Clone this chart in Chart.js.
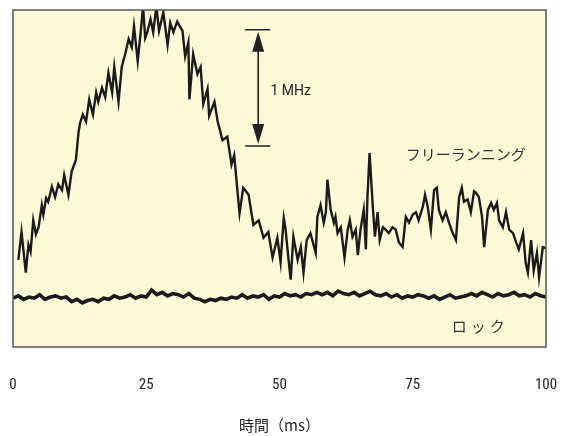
<!DOCTYPE html>
<html>
<head>
<meta charset="utf-8">
<script src="https://cdn.jsdelivr.net/npm/chart.js@4.4.1/dist/chart.umd.min.js"></script>
<style>
  html, body { margin: 0; padding: 0; background: #fff; }
  #wrap { width: 566px; height: 436px; }
</style>
</head>
<body>
<div id="wrap"><canvas id="chart"></canvas></div>
<script>
// time axis (ms) and tick labels
const xTicks = [0, 25, 50, 75, 100];

// free running trace (ms, MHz above baseline)
const freeTimes = [
    1.0, 1.6, 2.4, 2.9, 3.3, 3.8, 4.3, 4.8, 5.4, 5.7, 6.2, 6.6, 7.3, 7.9, 8.5, 9.2, 9.6, 10.4, 11.0, 11.8,
    12.3, 12.6, 13.1, 13.7, 14.3, 15.0, 15.6, 16.0, 16.7, 17.3, 17.9, 18.6, 19.0, 19.8, 20.4, 21.1, 21.7, 22.3, 22.7, 23.4,
    24.0, 24.4, 24.8, 25.2, 25.8, 26.3, 26.9, 27.4, 28.2, 29.0, 29.5, 30.1, 30.8, 31.8, 32.3, 32.9, 33.1, 33.8, 34.6, 35.2,
    35.7, 36.5, 36.8, 37.8, 38.4, 39.3, 40.2, 41.0, 41.5, 42.5, 43.2, 44.2, 45.1, 46.1, 47.0, 47.9, 48.7, 49.6, 50.2, 50.8,
    51.1, 51.7, 52.1, 52.6, 53.4, 54.0, 54.5, 55.1, 55.8, 56.8, 57.1, 57.7, 58.3, 58.7, 59.0, 59.6, 60.2, 60.5, 60.9, 61.5,
    62.2, 62.8, 63.2, 63.7, 64.3, 64.7, 65.2, 65.8, 66.2, 66.5, 66.9, 67.5, 67.9, 68.4, 68.8, 69.4, 69.9, 70.5, 71.2, 71.8,
    72.4, 73.1, 73.7, 74.3, 75.0, 75.6, 76.1, 76.9, 77.3, 77.8, 78.4, 79.0, 79.5, 79.9, 80.6, 81.2, 81.8, 82.5, 83.1, 83.7,
    84.2, 84.6, 85.3, 85.9, 86.5, 86.8, 87.4, 88.0, 88.4, 89.1, 89.7, 90.2, 90.8, 91.2, 91.9, 92.5, 93.1, 93.8, 94.4, 94.9,
    95.7, 96.2, 96.6, 97.2, 97.7, 98.3, 98.7, 99.4, 100
];
const freeValues = [
    0.75, 0.99, 0.64, 0.88, 0.82, 1.09, 0.97, 1.03, 1.22, 1.14, 1.28, 1.25, 1.38, 1.29, 1.40, 1.35, 1.48, 1.31, 1.51, 1.61,
    1.85, 1.93, 2.00, 1.94, 2.13, 2.00, 2.19, 2.11, 2.23, 2.15, 2.36, 2.19, 2.41, 2.11, 2.41, 2.53, 2.65, 2.58, 2.76, 2.46,
    2.73, 2.93, 2.66, 2.71, 2.82, 2.71, 2.93, 2.72, 2.88, 2.60, 2.79, 2.71, 2.80, 2.72, 2.50, 2.62, 2.13, 2.52, 2.35, 2.41,
    2.09, 2.22, 1.99, 2.11, 1.94, 1.78, 1.81, 1.57, 1.65, 1.15, 1.37, 1.31, 1.05, 1.09, 0.94, 0.99, 0.77, 0.94, 0.73, 1.11,
    1.03, 0.75, 0.58, 0.95, 0.75, 0.86, 0.64, 0.92, 0.98, 0.81, 1.12, 1.22, 1.07, 1.16, 1.44, 1.18, 1.07, 1.12, 0.98, 1.03,
    0.77, 1.01, 1.09, 0.95, 1.01, 0.79, 1.01, 1.18, 0.84, 1.29, 1.67, 1.21, 0.95, 1.16, 0.92, 1.03, 1.01, 0.98, 1.03, 1.01,
    0.90, 0.86, 1.12, 1.07, 1.14, 1.16, 1.09, 1.21, 1.31, 1.21, 1.01, 1.35, 1.37, 1.18, 1.09, 1.16, 1.07, 0.98, 0.92, 1.29,
    1.37, 1.25, 1.27, 1.16, 1.34, 1.33, 1.29, 1.12, 0.86, 1.18, 1.24, 1.18, 1.24, 1.09, 1.03, 1.16, 1.01, 0.98, 0.90, 0.84,
    0.98, 0.72, 0.64, 0.92, 0.66, 0.81, 0.60, 0.86, 0.85
];

// locked trace, one reading per ms
const lockTimes = [
    0, 1, 2, 3, 4, 5, 6, 7, 8, 9, 10, 11, 12, 13, 14, 15, 16, 17, 18, 19, 20,
    21, 22, 23, 24, 25, 26, 27, 28, 29, 30, 31, 32, 33, 34, 35, 36, 37, 38, 39, 40,
    41, 42, 43, 44, 45, 46, 47, 48, 49, 50, 51, 52, 53, 54, 55, 56, 57, 58, 59, 60,
    61, 62, 63, 64, 65, 66, 67, 68, 69, 70, 71, 72, 73, 74, 75, 76, 77, 78, 79, 80,
    81, 82, 83, 84, 85, 86, 87, 88, 89, 90, 91, 92, 93, 94, 95, 96, 97, 98, 99, 100
];
const lockValues = [
    0.42, 0.44, 0.41, 0.43, 0.42, 0.45, 0.41, 0.43, 0.44, 0.42, 0.43,
    0.39, 0.41, 0.38, 0.40, 0.41, 0.39, 0.42,
    0.41, 0.44, 0.42, 0.43, 0.45, 0.42, 0.44, 0.43,
    0.49, 0.45, 0.47, 0.44, 0.46,
    0.45, 0.43, 0.46, 0.42, 0.41,
    0.39, 0.41, 0.40, 0.42, 0.41, 0.43, 0.42,
    0.45, 0.42, 0.44, 0.43, 0.45, 0.41, 0.44, 0.43,
    0.46, 0.44, 0.45, 0.43, 0.46, 0.45, 0.47,
    0.45, 0.47, 0.44, 0.48, 0.46, 0.45, 0.47, 0.44, 0.46, 0.48, 0.45, 0.44, 0.46,
    0.43, 0.45, 0.42, 0.44, 0.43, 0.45, 0.44,
    0.42, 0.44, 0.41, 0.43, 0.45, 0.42, 0.43, 0.44,
    0.46, 0.44, 0.47, 0.45, 0.43, 0.46, 0.44, 0.45, 0.47, 0.44,
    0.45, 0.43, 0.46, 0.44, 0.43
];

const labelFont = '"Roboto Condensed", "Liberation Sans Narrow", "Roboto", sans-serif';
const jpFont = '"Noto Sans CJK JP", sans-serif';

// yellow plot panel + border, and the hand drawn annotations
const panelPlugin = {
    id: 'panel',
    beforeDatasetsDraw(chart) {
        const { ctx, chartArea: a } = chart;
        ctx.save();
        ctx.fillStyle = '#fdf8d6';
        ctx.fillRect(a.left, a.top, a.right - a.left, a.bottom - a.top);
        ctx.restore();
    },
    afterDatasetsDraw(chart) {
        const { ctx, chartArea: a, scales } = chart;
        const x = scales.x, y = scales.y;
        ctx.save();
        ctx.strokeStyle = '#555';
        ctx.lineWidth = 1.5;
        ctx.strokeRect(a.left, a.top, a.right - a.left, a.bottom - a.top);

        // 1 MHz scale bar
        const ax = x.getPixelForValue(46);
        const top = y.getPixelForValue(2.73);
        const bot = y.getPixelForValue(1.73);
        ctx.strokeStyle = '#222';
        ctx.fillStyle = '#222';
        ctx.lineWidth = 1.6;
        ctx.beginPath();
        ctx.moveTo(ax - 13, top); ctx.lineTo(ax + 12, top);
        ctx.moveTo(ax - 13, bot); ctx.lineTo(ax + 12, bot);
        ctx.moveTo(ax, top + 10); ctx.lineTo(ax, bot - 10);
        ctx.stroke();
        ctx.beginPath();
        ctx.moveTo(ax, top + 2); ctx.lineTo(ax - 6, top + 22); ctx.lineTo(ax + 6, top + 22); ctx.closePath();
        ctx.moveTo(ax, bot - 2); ctx.lineTo(ax - 6, bot - 22); ctx.lineTo(ax + 6, bot - 22); ctx.closePath();
        ctx.fill();

        ctx.textBaseline = 'middle';
        ctx.textAlign = 'left';
        ctx.fillStyle = '#222';
        ctx.font = '14px "Roboto", sans-serif';
        ctx.fillText('1 MHz', x.getPixelForValue(48.3), y.getPixelForValue(2.2));

        ctx.fillStyle = '#333';
        ctx.font = '15px ' + jpFont;
        ctx.fillText('フリーランニング', x.getPixelForValue(73.7), y.getPixelForValue(1.66));
        ctx.letterSpacing = '4px';
        ctx.fillText('ロック', x.getPixelForValue(82.3), y.getPixelForValue(0.18));
        ctx.restore();
    }
};

const ctx = document.getElementById('chart').getContext('2d');
new Chart(ctx, {
    type: 'line',
    data: {
        datasets: [{
            label: 'フリーランニング',
            data: freeTimes.map((t, i) => ({ x: t, y: freeValues[i] })),
            borderColor: '#1b1b1b',
            borderWidth: 2.4,
            pointRadius: 0,
            tension: 0
        }, {
            label: 'ロック',
            data: lockTimes.map((t, i) => ({ x: t, y: lockValues[i] })),
            borderColor: '#1b1b1b',
            borderWidth: 3.6,
            pointRadius: 0,
            tension: 0
        }]
    },
    options: {
        responsive: true,
        maintainAspectRatio: false,
        animation: false,
        layout: {
            padding: { left: 13, right: 20, top: 10, bottom: 2 }
        },
        plugins: {
            legend: { display: false },
            tooltip: { enabled: false }
        },
        scales: {
            x: {
                type: 'linear',
                min: 0,
                max: 100,
                afterBuildTicks: scale => { scale.ticks = xTicks.map(v => ({ value: v })); },
                grid: { display: false, drawTicks: true, tickLength: 26 },
                border: { display: false },
                ticks: {
                    padding: 3,
                    color: '#222',
                    font: { family: labelFont, size: 15 }
                },
                title: {
                    display: true,
                    text: '時間（ms）',
                    color: '#222',
                    padding: { top: 19, bottom: 0 },
                    font: { family: jpFont, size: 15 }
                }
            },
            y: {
                display: false,
                min: 0,
                max: 2.9
            }
        }
    },
    plugins: [panelPlugin]
});
</script>
</body>
</html>
